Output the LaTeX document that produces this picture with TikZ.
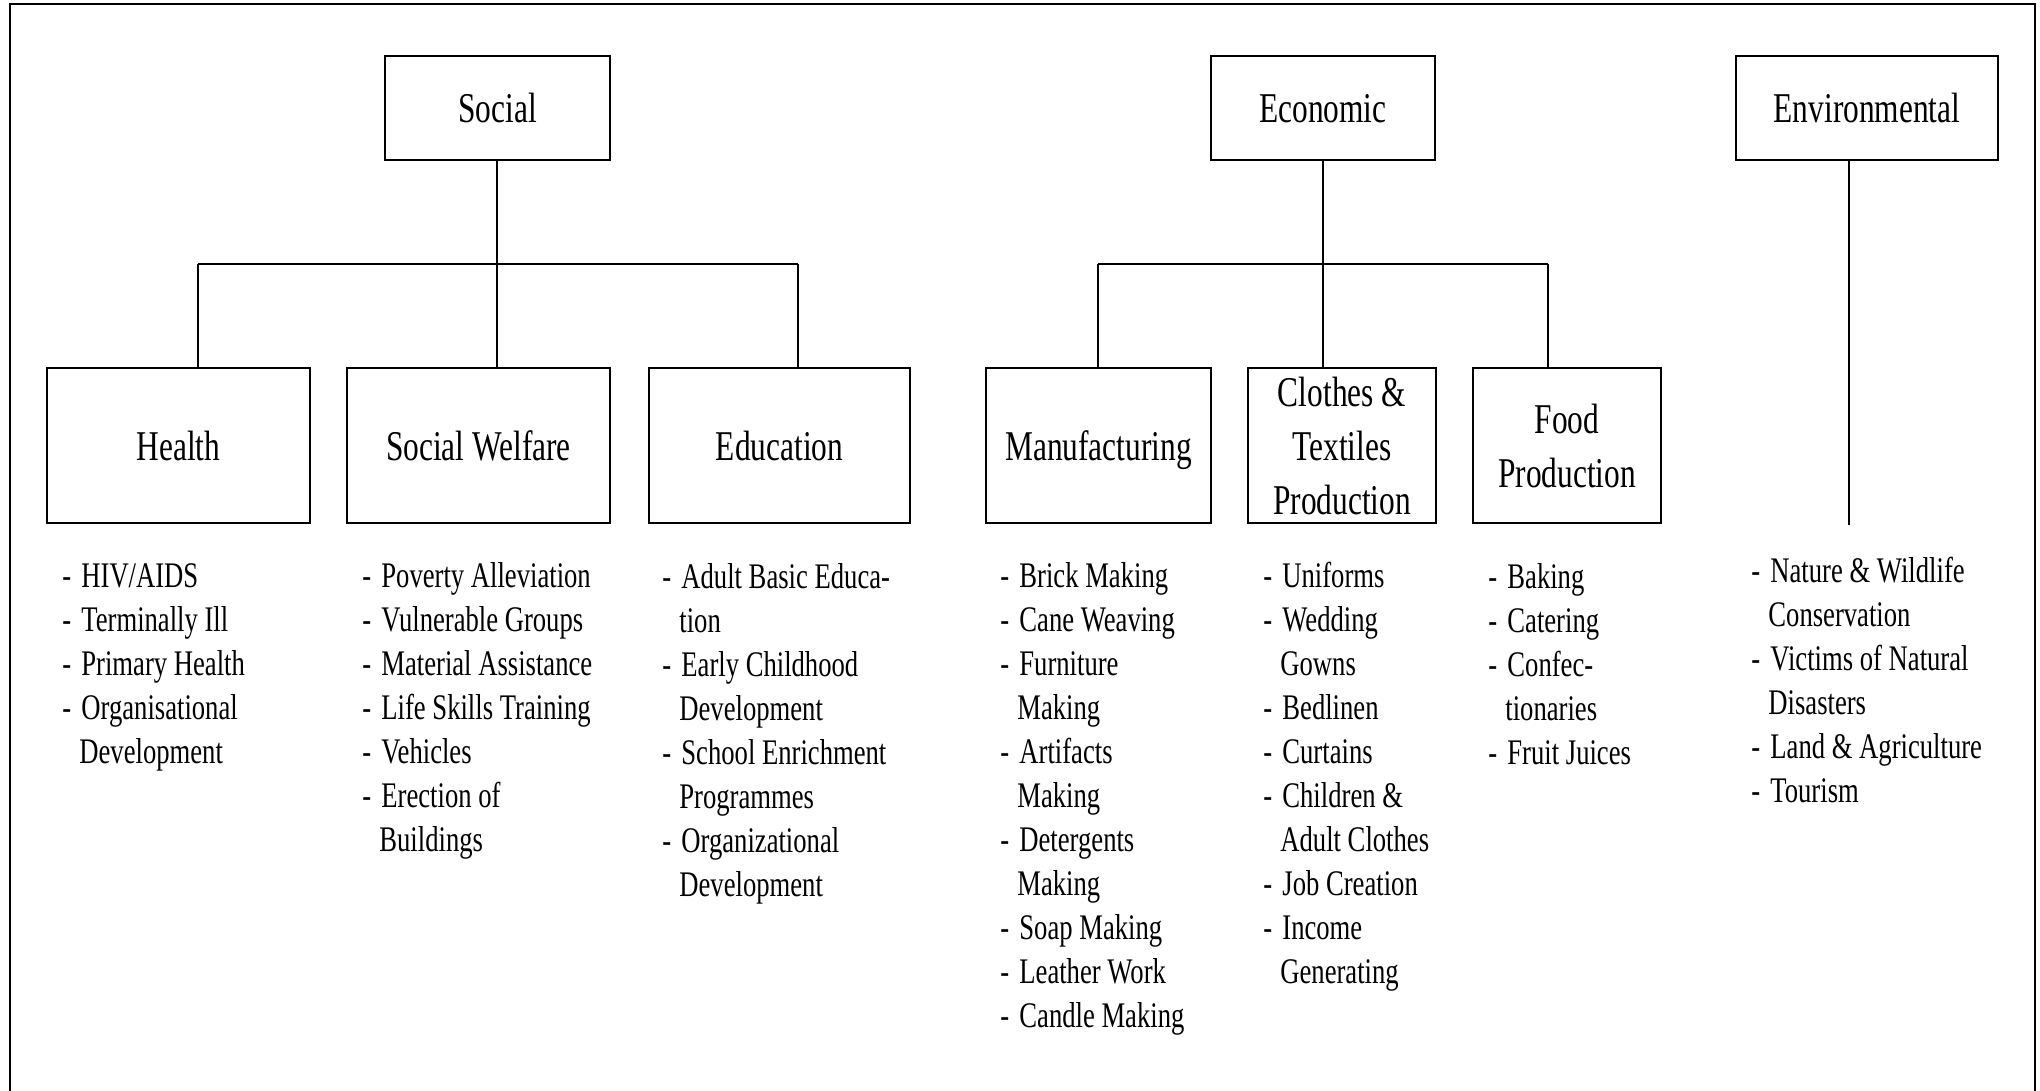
\documentclass[tikz,border=0pt]{standalone}
\usepackage{fontspec}
\setmainfont[FakeStretch=0.74]{Liberation Serif}
\begin{document}
\begin{tikzpicture}[x=0.5pt,y=-0.5pt,
  box/.style={draw,line width=1pt,rectangle,inner sep=0pt,align=center,
    text depth=0pt,font=\fontsize{21.2}{27}\selectfont},
  conn/.style={line width=0.75pt},
  bar/.style={line width=1.15pt},
  frame/.style={line width=1pt},
  lst/.style={anchor=base west,inner sep=0pt,font=\fontsize{18}{22}\selectfont}]
\useasboundingbox (0,0) rectangle (2040,1091);
% outer frame (open at the bottom)
\coordinate (fbl) at (10,1095);
\coordinate (ftl) at (10,4);
\coordinate (ftr) at (2035,4);
\coordinate (fbr) at (2035,1095);
\draw[frame] (fbl) -- (ftl) -- (ftr) -- (fbr);

% top boxes
\node[box,minimum width=112.5pt,minimum height=52pt] (social) at (497.5,108) {Social};
\node[box,minimum width=112pt,minimum height=52pt] (economic) at (1323,108) {Economic};
\node[box,minimum width=131pt,minimum height=52pt] (env) at (1867,108) {Environmental};

% second level boxes
\node[box,minimum width=131.5pt,minimum height=77.5pt] (health) at (178.5,445.5) {Health};
\node[box,minimum width=131.5pt,minimum height=77.5pt] (welfare) at (478.5,445.5) {Social Welfare};
\node[box,minimum width=130.5pt,minimum height=77.5pt] (edu) at (779.5,445.5) {Education};
\node[box,minimum width=112.5pt,minimum height=77.5pt] (manuf) at (1098.5,445.5) {Manufacturing};
\node[box,minimum width=94pt,minimum height=77.5pt] (clothes) at (1342,445.5) {Clothes \&\\Textiles\\Production};
\node[box,minimum width=94pt,minimum height=77.5pt] (food) at (1567,445.5) {Food\\Production};

% social connectors
\coordinate (sj) at (497,264);
\coordinate (sl) at (198,264);
\coordinate (sr) at (798,264);
\draw[conn] (social.south -| sj) -- (sj);
\draw[bar] (sl) -- (sr);
\draw[conn] (sl) -- (sl |- health.north);
\draw[conn] (sj) -- (sj |- welfare.north);
\draw[conn] (sr) -- (sr |- edu.north);

% economic connectors
\coordinate (ej) at (1323,264);
\coordinate (el) at (1098,264);
\coordinate (er) at (1548,264);
\draw[conn] (economic.south -| ej) -- (ej);
\draw[bar] (el) -- (er);
\draw[conn] (el) -- (el |- manuf.north);
\draw[conn] (ej) -- (ej |- clothes.north);
\draw[conn] (er) -- (er |- food.north);

% environmental connector
\coordinate (envx) at (1849,525);
\draw[conn] (env.south -| envx) -- (envx);

% lists
\node[lst] (lhealth) at (62,587) {\begin{tabular}[t]{@{}p{9.5pt}@{}l@{}}
- & HIV/AIDS\\
- & Terminally Ill\\
- & Primary Health\\
- & Organisational\\
  & \hspace*{-1pt}Development
\end{tabular}};

\node[lst] (lwelfare) at (362,587) {\begin{tabular}[t]{@{}p{9.5pt}@{}l@{}}
- & Poverty Alleviation\\
- & Vulnerable Groups\\
- & Material Assistance\\
- & Life Skills Training\\
- & Vehicles\\
- & Erection of\\
  & \hspace*{-1pt}Buildings
\end{tabular}};

\node[lst] (ledu) at (662,588) {\begin{tabular}[t]{@{}p{9.5pt}@{}l@{}}
- & Adult Basic Educa-\\
  & \hspace*{-1pt}tion\\
- & Early Childhood\\
  & \hspace*{-1pt}Development\\
- & School Enrichment\\
  & \hspace*{-1pt}Programmes\\
- & Organizational\\
  & \hspace*{-1pt}Development
\end{tabular}};

\node[lst] (lmanuf) at (1000,587) {\begin{tabular}[t]{@{}p{9.5pt}@{}l@{}}
- & Brick Making\\
- & Cane Weaving\\
- & Furniture\\
  & \hspace*{-1pt}Making\\
- & Artifacts\\
  & \hspace*{-1pt}Making\\
- & Detergents\\
  & \hspace*{-1pt}Making\\
- & Soap Making\\
- & Leather Work\\
- & Candle Making
\end{tabular}};

\node[lst] (lclothes) at (1263,587) {\begin{tabular}[t]{@{}p{9.5pt}@{}l@{}}
- & Uniforms\\
- & Wedding\\
  & \hspace*{-1pt}Gowns\\
- & Bedlinen\\
- & Curtains\\
- & Children \&\\
  & \hspace*{-1pt}Adult Clothes\\
- & Job Creation\\
- & Income\\
  & \hspace*{-1pt}Generating
\end{tabular}};

\node[lst] (lfood) at (1488,588) {\begin{tabular}[t]{@{}p{9.5pt}@{}l@{}}
- & Baking\\
- & Catering\\
- & Confec-\\
  & \hspace*{-1pt}tionaries\\
- & Fruit Juices
\end{tabular}};

\node[lst] (lenv) at (1751,582) {\begin{tabular}[t]{@{}p{9.5pt}@{}l@{}}
- & Nature \& Wildlife\\
  & \hspace*{-1pt}Conservation\\
- & Victims of Natural\\
  & \hspace*{-1pt}Disasters\\
- & Land \& Agriculture\\
- & Tourism
\end{tabular}};
\end{tikzpicture}
\end{document}
